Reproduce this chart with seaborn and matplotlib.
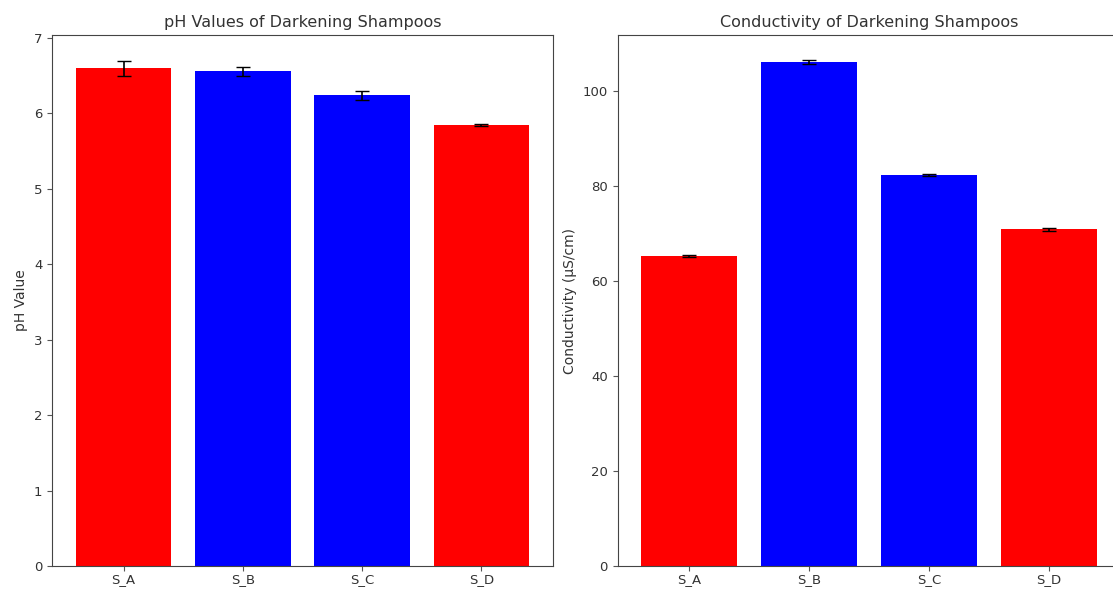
import matplotlib
matplotlib.use("Agg")
import matplotlib.pyplot as plt
import seaborn as sns
import pandas as pd

samples = ["S_A", "S_B", "S_C", "S_D"]
ph_values = [6.60, 6.56, 6.24, 5.85]
ph_errors = [0.10, 0.06, 0.06, 0.01]
cond_values = [65.3, 106.1, 82.3, 70.9]
cond_errors = [0.2, 0.4, 0.2, 0.3]
bar_colors = ["red", "blue", "blue", "red"]

df = pd.DataFrame({"sample": samples, "ph": ph_values, "cond": cond_values})
palette = dict(zip(samples, bar_colors))

W, H = 1113, 589
fig = plt.figure(figsize=(W / 100, H / 100), dpi=100)
ax1 = fig.add_axes([52 / W, (H - 566) / H, (553 - 52) / W, (566 - 35) / H])
ax2 = fig.add_axes([617.5 / W, (H - 566) / H, (1121 - 617.5) / W, (566 - 35) / H])

text_color = "#333333"
for ax, col, errs, title, ylabel in [
    (ax1, "ph", ph_errors, "pH Values of Darkening Shampoos", "pH Value"),
    (ax2, "cond", cond_errors, "Conductivity of Darkening Shampoos", "Conductivity (µS/cm)"),
]:
    sns.barplot(data=df, x="sample", y=col, hue="sample", palette=palette,
                saturation=1, width=0.8, legend=False, ax=ax, errorbar=None)
    ax.errorbar(range(len(samples)), df[col], yerr=errs, fmt="none",
                ecolor="black", capsize=5, elinewidth=1.2)
    ax.set_title(title, fontsize=11.5, color=text_color)
    ax.set_ylabel(ylabel, fontsize=10, color=text_color)
    ax.set_xlabel("")
    ax.tick_params(labelsize=9.5, labelcolor=text_color, color="#555555")
    ax.tick_params(axis="x", pad=1.5)
    for s in ax.spines.values():
        s.set_color("#444444")
    ax.set_xlim(-0.6, 3.6)

ax1.set_ylim(0, 7.04)
ax2.set_ylim(0, 111.8)

fig.savefig("out.png", dpi=100)
